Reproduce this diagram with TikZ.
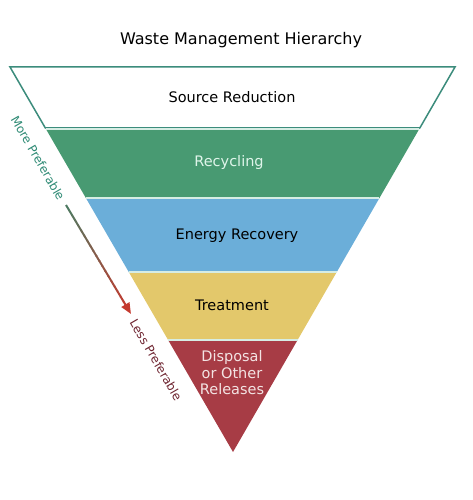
\documentclass[tikz,border=0pt]{standalone}
\usepackage{fontspec}
\setmainfont{DejaVu Sans}
\usetikzlibrary{calc,arrows.meta}
\definecolor{srcline}{HTML}{3C8C7C}
\definecolor{sepline}{HTML}{D6EDE4}
\definecolor{recgreen}{HTML}{489A72}
\definecolor{enrblue}{HTML}{6BAED9}
\definecolor{trtyellow}{HTML}{E3C86B}
\definecolor{dspred}{HTML}{A73C45}
\definecolor{rectext}{HTML}{DFF5EA}
\definecolor{dsptext}{HTML}{F3E3E3}
\definecolor{moretext}{HTML}{2E8A74}
\definecolor{lesstext}{HTML}{6E2430}
\definecolor{arrgreen}{HTML}{4E7A62}
\definecolor{arrred}{HTML}{C53A2F}
\begin{document}
\begin{tikzpicture}[x=1pt,y=-1pt]
	% canvas size
	\useasboundingbox (0,0) rectangle (472,500);
	% font sizes
	\def\titlefs{\fontsize{16}{19}\selectfont}
	\def\bandfs{\fontsize{14.5}{16.5}\selectfont}
	\def\preffs{\fontsize{12}{14}\selectfont}
	% node style definition
	\tikzstyle{band} = [draw=none, fill=none, align=center, font=\bandfs, inner sep=0pt];
	\tikzstyle{sep} = [draw=sepline, line width=2pt];
	\tikzstyle{pref} = [rotate=-60, font=\preffs, inner sep=0pt];
	% triangle corners
	\coordinate (tl) at (10,67);
	\coordinate (tr) at (455,67);
	\coordinate (ap) at (233,452);
	% bands, as fractions of the height
	\foreach \a/\b/\col in {0/0.1584/white, 0.1584/0.3403/recgreen, 0.3403/0.5325/enrblue, 0.5325/0.7091/trtyellow, 0.7091/1/dspred} {
		\fill[\col] ($(tl)!\a!(ap)$) -- ($(tr)!\a!(ap)$) -- ($(tr)!\b!(ap)$) -- ($(tl)!\b!(ap)$) -- cycle;
	}
	\draw[srcline, line width=1.5pt] ($(tl)!0.1584!(ap)$) -- (tl) -- (tr) -- ($(tr)!0.1584!(ap)$) -- cycle;
	\foreach \t in {0.1620,0.3403,0.5325,0.7091} {
		\draw[sep] ($(tl)!\t!(ap)$) -- ($(tr)!\t!(ap)$);
	}
	% texts
	\node[font=\titlefs, anchor=base] (title) at (241,45) {Waste Management Hierarchy};
	\node[band, anchor=base] (src) at (232,102.5) {Source Reduction};
	\node[band, anchor=base, text=rectext] (rec) at (229,166.5) {Recycling};
	\node[band, anchor=base] (enr) at (237,239) {Energy Recovery};
	\node[band, anchor=base] (trt) at (232,310) {Treatment};
	\node[band, text=dsptext] (dsp) at (232,373) {Disposal\\or Other\\Releases};
	% preference arrow
	\node[pref, text=moretext] (more) at (38,158) {More Preferable};
	\node[pref, text=lesstext] (less) at (156,360) {Less Preferable};
	\coordinate (as) at (66,205);
	\coordinate (ae) at (131,314);
	\foreach \i [evaluate=\i as \ta using \i/20*0.93, evaluate=\i as \tb using (\i+1.1)/20*0.93, evaluate=\i as \p using \i*5] in {0,...,19} {
		\draw[color=arrred!\p!arrgreen, line width=2pt] ($(as)!\ta!(ae)$) -- ($(as)!\tb!(ae)$);
	}
	\draw[arrred, line width=2pt, -{Triangle[length=11pt,width=9pt]}] ($(as)!0.92!(ae)$) -- (ae);
\end{tikzpicture}
\end{document}
